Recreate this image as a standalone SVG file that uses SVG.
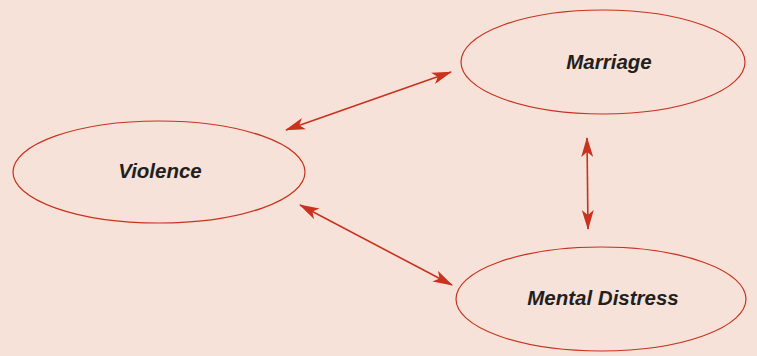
<svg xmlns="http://www.w3.org/2000/svg" width="757" height="356" viewBox="0 0 757 356">
<style>
.node ellipse{fill:none;stroke:#c8321e;stroke-width:1.2}
.node text{font-family:"Liberation Sans",Arial,sans-serif;font-style:italic;font-weight:bold;font-size:20.5px;fill:#231f20;text-anchor:middle}
.conn line{stroke:#c8321e;stroke-width:1.6;marker-start:url(#ah);marker-end:url(#ah)}
</style>
<defs>
<marker id="ah" viewBox="0 0 20 12" refX="19" refY="6" markerWidth="20" markerHeight="12" markerUnits="userSpaceOnUse" orient="auto-start-reverse">
<path d="M0,0 L20,6 L0,12 L5,6 Z" fill="#c8321e"/>
</marker>
</defs>
<rect width="757" height="356" fill="#f6e2d8"/>
<g id="marriage" class="node">
<ellipse cx="603" cy="62" rx="142" ry="52"/>
<text x="609" y="69">Marriage</text>
</g>
<g id="violence" class="node">
<ellipse cx="159" cy="172" rx="146" ry="51"/>
<text x="160" y="178">Violence</text>
</g>
<g id="mental-distress" class="node">
<ellipse cx="601" cy="299" rx="145" ry="52"/>
<text x="603" y="305">Mental Distress</text>
</g>
<g id="connectors" class="conn">
<line x1="286" y1="130" x2="451" y2="72"/>
<line x1="587" y1="138" x2="588" y2="229"/>
<line x1="300" y1="205" x2="452" y2="285"/>
</g>
</svg>
